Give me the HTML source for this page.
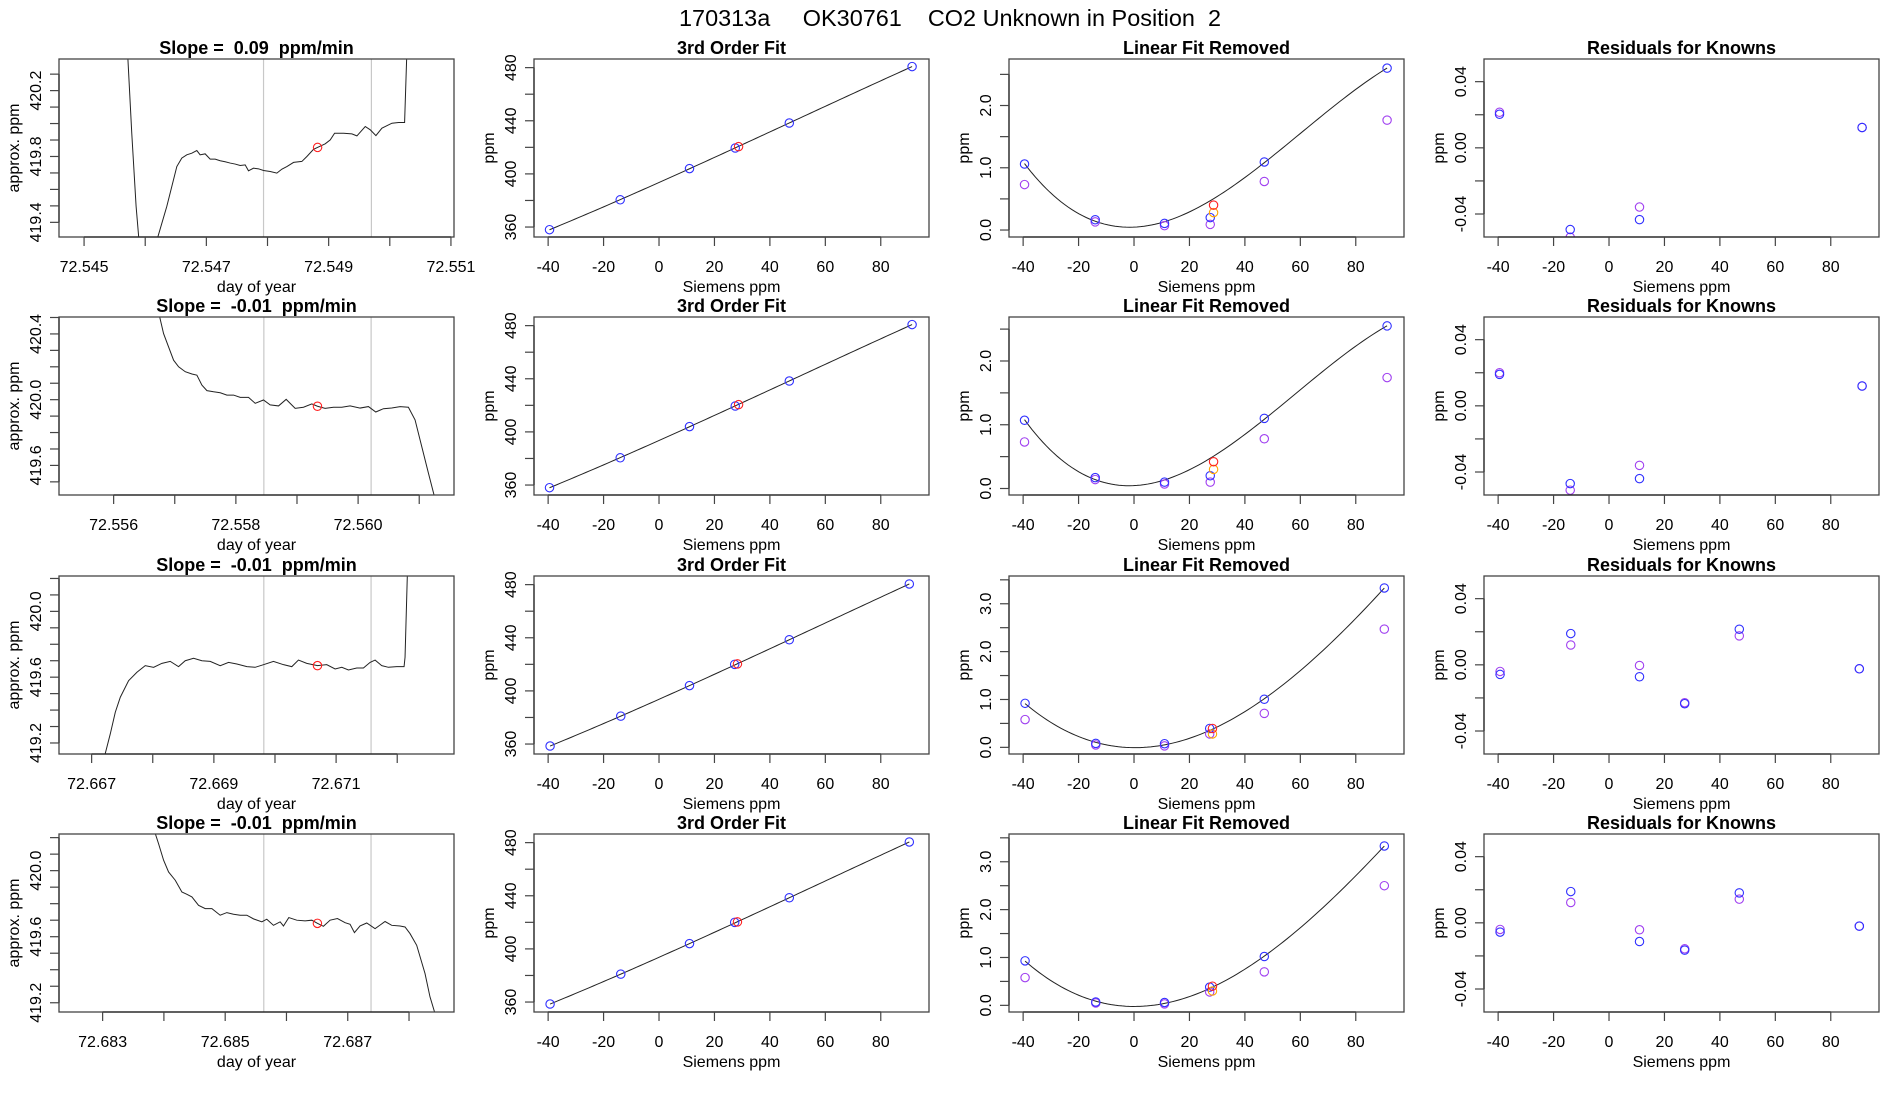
<!DOCTYPE html>
<html><head><meta charset="utf-8"><style>
html,body{margin:0;padding:0;background:#fff;}
svg{display:block;font-family:"Liberation Sans",sans-serif;}
svg text{white-space:pre;}
</style></head><body>
<svg id="fig" width="1900" height="1100" viewBox="0 0 1900 1100" xmlns="http://www.w3.org/2000/svg">
<rect width="1900" height="1100" fill="#fff"/>
<text x="679" y="26" font-size="23" textLength="542" lengthAdjust="spacingAndGlyphs">170313a     OK30761    CO2 Unknown in Position  2</text>
<g id="plots"></g>
</svg>
<script>
// ---------- time series data (column 1) ----------
const ts1_t=[72.545715,72.545780,72.545851,72.545906,72.546162,72.546353,72.546517,72.546598,72.54668,72.546762,72.546844,72.546898,72.54698,72.547062,72.547144,72.547226,72.547307,72.547389,72.547471,72.547553,72.547635,72.547689,72.547771,72.547853,72.547935,72.548044,72.548153,72.548235,72.548317,72.548426,72.548562,72.548644,72.548753,72.548818,72.548944,72.549026,72.549097,72.549244,72.54938,72.549462,72.549599,72.54968,72.549773,72.549871,72.550035,72.550144,72.550242,72.55028];
const ts1_v=[420.406,419.941,419.497,419.255,419.255,419.497,419.739,419.790,419.810,419.820,419.836,419.810,419.816,419.784,419.784,419.774,419.768,419.760,419.754,419.745,419.749,419.713,419.729,419.725,419.715,419.709,419.699,419.723,419.739,419.764,419.770,419.800,419.844,419.855,419.877,419.901,419.941,419.941,419.937,419.925,419.982,419.962,419.927,419.972,420.002,420.006,420.006,420.446];
const ts2_t=[72.556741,72.556817,72.556899,72.556981,72.557063,72.557172,72.557281,72.557362,72.557444,72.557526,72.557635,72.557744,72.557853,72.557962,72.558071,72.558207,72.558316,72.558452,72.558561,72.558698,72.558823,72.558970,72.559106,72.559243,72.559335,72.559460,72.559597,72.559733,72.559869,72.560033,72.560169,72.560289,72.560414,72.560550,72.560687,72.560823,72.560932,72.561041,72.561150,72.561248,72.561286];
const ts2_v=[420.523,420.402,420.321,420.240,420.200,420.170,420.156,420.149,420.089,420.055,420.048,420.042,420.028,420.028,420.014,420.014,419.978,419.998,419.968,419.962,420.002,419.947,419.954,419.974,419.960,419.947,419.954,419.954,419.962,419.949,419.958,419.925,419.945,419.949,419.958,419.954,419.877,419.715,419.554,419.412,419.352];
const ts3_t=[72.667207,72.667305,72.667387,72.667469,72.667605,72.667741,72.667877,72.668014,72.668150,72.668286,72.668422,72.668531,72.668668,72.668804,72.668940,72.669104,72.669240,72.669376,72.669540,72.669676,72.669812,72.669975,72.670139,72.670275,72.670384,72.670520,72.670695,72.670847,72.670984,72.671093,72.671202,72.671338,72.671447,72.671556,72.671638,72.671747,72.671856,72.671992,72.672112,72.672128,72.672166];
const ts3_v=[419.113,419.255,419.387,419.478,419.579,419.630,419.670,419.660,419.684,419.696,419.664,419.700,419.715,419.700,419.696,419.670,419.690,419.680,419.664,419.660,419.676,419.696,419.676,419.664,419.704,419.684,419.670,419.676,419.650,419.660,419.644,419.656,419.656,419.690,419.704,419.670,419.660,419.664,419.664,419.721,420.227];
const ts4_t=[72.683842,72.683913,72.683995,72.684076,72.684185,72.684293,72.684375,72.684457,72.684565,72.684674,72.684783,72.684918,72.685027,72.685136,72.685245,72.685353,72.685462,72.685598,72.685679,72.685788,72.685897,72.685951,72.686038,72.686168,72.686304,72.686413,72.686505,72.686603,72.686712,72.686832,72.686957,72.687038,72.687109,72.687201,72.687310,72.687446,72.687609,72.687717,72.687853,72.687935,72.688016,72.688125,72.688261,72.688342,72.688424];
const ts4_v=[420.244,420.163,420.063,419.992,419.942,419.871,419.857,419.841,419.790,419.770,419.770,419.730,419.746,419.736,419.730,419.730,419.708,419.690,419.706,419.669,419.690,419.665,419.716,419.700,419.696,419.700,419.681,419.663,419.700,419.710,419.685,419.675,419.625,419.665,419.683,419.649,419.692,419.669,419.665,419.659,419.619,419.548,419.377,419.236,419.135];
const tsMarkT=[72.548819,72.559335,72.670695,72.686505];
const tsMarkV=[419.855,419.960,419.670,419.681];
const tsVlineA=[72.547935,72.558458,72.669817,72.685630];
const tsVlineB=[72.549699,72.560213,72.671572,72.687380];
const tsTitles=["Slope =  0.09  ppm/min","Slope =  -0.01  ppm/min","Slope =  -0.01  ppm/min","Slope =  -0.01  ppm/min"];
const tsXTickStart=[72.545,72.556,72.667,72.683];
const tsXLabels=[["72.545","72.547","72.549","72.551"],["72.556","72.558","72.560"],["72.667","72.669","72.671"],["72.683","72.685","72.687"]];
const tsYLabels=[["419.4","419.8","420.2"],["419.6","420.0","420.4"],["419.2","419.6","420.0"],["419.2","419.6","420.0"]];

// ---------- calibration data (columns 2-4) ----------
const sieX12=[-39.5,-14.0,11.0,27.5,47.0,91.3];
const sieX34=[-39.3,-13.8,11.0,27.3,47.0,90.3];
const fitY_r1=[358,380.5,404,419.5,438.3,480.8];
const fitY_r2=[358,380.5,404,419.5,438.3,480.8];
const fitY_r3=[358.5,381,404,420,438.5,480.5];
const fitY_r4=[358.5,381,404,420,438.5,480.5];
const unkX=[28.7,28.7,28.3,28.3];
const unkY=[420.5,420.5,420.3,420.3];
const linBlue_r1=[1.06,0.165,0.107,0.2,1.093,2.6];
const linPurp_r1=[0.73,0.13,0.07,0.09,0.78,1.765];
const linBlue_r2=[1.07,0.17,0.1,0.2,1.1,2.55];
const linPurp_r2=[0.73,0.14,0.07,0.1,0.78,1.74];
const linBlue_r3=[0.92,0.083,0.076,0.395,1.005,3.33];
const linPurp_r3=[0.58,0.05,0.03,0.28,0.71,2.47];
const linBlue_r4=[0.93,0.07,0.06,0.38,1.02,3.33];
const linPurp_r4=[0.58,0.05,0.03,0.28,0.7,2.5];
const linRed=[0.40,0.42,0.395,0.40];
const linOrange=[0.28,0.30,0.28,0.30];
const resX12=[-39.5,-14.0,11.0,91.3];
const resBlue_r1=[0.0203,-0.0494,-0.0434,0.0123];
const resPurp_r1=[0.0215,-0.054,-0.0358,0.0123];
const resBlue_r2=[0.019,-0.047,-0.044,0.012];
const resPurp_r2=[0.020,-0.051,-0.036,0.012];
const resBlue_r3=[-0.0058,0.0189,-0.0072,-0.0235,0.0215,-0.0024];
const resPurp_r3=[-0.004,0.012,-0.0004,-0.0229,0.0175,-0.0024];
const resBlue_r4=[-0.0056,0.0189,-0.0113,-0.0165,0.0181,-0.002];
const resPurp_r4=[-0.004,0.0123,-0.0042,-0.0157,0.0143,-0.002];
const sieTicks=[-40,-20,0,20,40,60,80];

// ---------- layout ----------
const colL=[59,534,1009,1484], rowT=[59,317,576,834], PW=395, PH=178;
const NS="http://www.w3.org/2000/svg";
const root=document.getElementById('plots');
function mk(tag,attrs,parent){const e=document.createElementNS(NS,tag);for(const k in attrs)e.setAttribute(k,attrs[k]);(parent||root).appendChild(e);return e;}

function makePanel(ci,ri,xr,yr,name){
  const L=colL[ci],T=rowT[ri],R=L+PW,B=T+PH;
  const g=mk('g',{});
  
  
  const id='cp'+ci+'_'+ri;
  const cp=mk('clipPath',{id:id},g);mk('rect',{x:L,y:T,width:PW,height:PH},cp);
  const x=v=>L+(v-xr[0])/(xr[1]-xr[0])*PW;
  const y=v=>B-(v-yr[0])/(yr[1]-yr[0])*PH;
  const inner=mk('g',{'clip-path':'url(#'+id+')'},g);
  return {L,T,R,B,x,y,g,inner};
}
function frame(p){
  const r=mk('rect',{x:p.L,y:p.T,width:PW,height:PH,fill:'none',stroke:'#444','stroke-width':1.3},p.g);
  
  
}
function xAxis(p,ticks,labelVals,labels,title){
  const ax=mk('g',{},p.g);
  
  
  mk('line',{x1:p.x(ticks[0]),x2:p.x(ticks[ticks.length-1]),y1:p.B,y2:p.B,stroke:'#222','stroke-width':1.2},ax);
  ticks.forEach(t=>mk('line',{x1:p.x(t),x2:p.x(t),y1:p.B,y2:p.B+9,stroke:'#444','stroke-width':1.2},ax));
  labelVals.forEach((t,i)=>{const tx=mk('text',{x:p.x(t),y:p.B+35,'font-size':16,'text-anchor':'middle'},ax);tx.textContent=labels[i];
    
    });
  const tt=mk('text',{x:(p.L+p.R)/2,y:p.B+55,'font-size':16,'text-anchor':'middle'},ax);tt.textContent=title;
  
  
}
function yAxis(p,ticks,labelVals,labels,title){
  const ax=mk('g',{},p.g);
  
  
  mk('line',{y1:p.y(ticks[0]),y2:p.y(ticks[ticks.length-1]),x1:p.L,x2:p.L,stroke:'#222','stroke-width':1.2},ax);
  ticks.forEach(t=>mk('line',{y1:p.y(t),y2:p.y(t),x1:p.L,x2:p.L-9,stroke:'#444','stroke-width':1.2},ax));
  labelVals.forEach((t,i)=>{const yy=p.y(t),xx=p.L-18;const tx=mk('text',{x:xx,y:yy,'font-size':16,'text-anchor':'middle',transform:'rotate(-90 '+xx+' '+yy+')'},ax);tx.textContent=labels[i];
    
    });
  const xx=p.L-40,yy=(p.T+p.B)/2;
  const tt=mk('text',{x:xx,y:yy,'font-size':16,'text-anchor':'middle',transform:'rotate(-90 '+xx+' '+yy+')'},ax);tt.textContent=title;
  
  
}
function title(p,s){
  const t=mk('text',{x:(p.L+p.R)/2,y:p.T-5,'font-size':18,'font-weight':'bold','text-anchor':'middle'},p.g);t.textContent=s;
  
  
}
function circ(p,xv,yv,col,name){
  const c=mk('circle',{cx:p.x(xv),cy:p.y(yv),r:4.2,fill:'none',stroke:col,'stroke-width':1.1},p.inner);
  
  
}
function range(a,b,s){const r=[];for(let v=a;v<=b+1e-9;v+=s)r.push(+v.toFixed(6));return r;}
function cubicFit(xs,ys){
  const n=4,A=[],bv=[];
  for(let i=0;i<n;i++){A.push(new Array(n).fill(0));bv.push(0);}
  xs.forEach((x,k)=>{for(let i=0;i<n;i++){bv[i]+=Math.pow(x,i)*ys[k];for(let j=0;j<n;j++)A[i][j]+=Math.pow(x,i+j);}});
  for(let i=0;i<n;i++){let m=i;for(let r=i+1;r<n;r++)if(Math.abs(A[r][i])>Math.abs(A[m][i]))m=r;
    [A[i],A[m]]=[A[m],A[i]];[bv[i],bv[m]]=[bv[m],bv[i]];
    for(let r=0;r<n;r++){if(r===i)continue;const f=A[r][i]/A[i][i];for(let c=i;c<n;c++)A[r][c]-=f*A[i][c];bv[r]-=f*bv[i];}}
  const co=bv.map((v,i)=>v/A[i][i]);
  return x=>co[0]+co[1]*x+co[2]*x*x+co[3]*x*x*x;
}
function drop3(a){return a.filter((v,i)=>i!==3);}

const tsT=[ts1_t,ts2_t,ts3_t,ts4_t], tsV=[ts1_v,ts2_v,ts3_v,ts4_v];
const tsXR=[[72.54459,72.55105],[72.555106,72.561569],[72.666466,72.672929],[72.682288,72.688734]];
const tsYR=[[419.311,420.392],[419.420,420.503],[419.133,420.215],[419.144,420.222]];
const fitYs=[fitY_r1,fitY_r2,fitY_r3,fitY_r4];
const linB=[linBlue_r1,linBlue_r2,linBlue_r3,linBlue_r4], linP=[linPurp_r1,linPurp_r2,linPurp_r3,linPurp_r4];
const linYR=[[-0.112,2.747],[-0.102,2.69],[-0.139,3.58],[-0.139,3.58]];
const resB=[resBlue_r1,resBlue_r2,resBlue_r3,resBlue_r4], resP=[resPurp_r1,resPurp_r2,resPurp_r3,resPurp_r4];
const sxr=[-45.1,97.4];

for(let r=0;r<4;r++){
  let p=makePanel(0,r,tsXR[r],tsYR[r],'time-series-panel-row'+(r+1));
  [tsVlineA[r],tsVlineB[r]].forEach(v=>{const l=mk('line',{x1:p.x(v),x2:p.x(v),y1:p.T,y2:p.B,stroke:'#c8c8c8','stroke-width':1.2},p.inner);
    
    });
  const pl=mk('polyline',{points:tsT[r].map((t,i)=>p.x(t)+','+p.y(tsV[r][i])).join(' '),fill:'none',stroke:'#222','stroke-width':1},p.inner);
  
  
  circ(p,tsMarkT[r],tsMarkV[r],'#ff2020','mean-marker');
  frame(p);
  const xt=range(tsXTickStart[r],tsXR[r][1],0.001).filter(v=>v>=tsXR[r][0]);
  const xl=tsXLabels[r].map(Number);
  xAxis(p,xt,xl,tsXLabels[r],'day of year');
  const yl=tsYLabels[r].map(Number);
  const yt=range(Math.ceil(tsYR[r][0]*10)/10,tsYR[r][1],0.1);
  yAxis(p,yt,yl,tsYLabels[r],'approx. ppm');
  title(p,tsTitles[r]);

  const sx=r<2?sieX12:sieX34;
  p=makePanel(1,r,sxr,[352.5,486.5],'third-order-fit-panel-row'+(r+1));
  let f=cubicFit(drop3(sx),drop3(fitYs[r]));
  let pts=[];for(let i=0;i<=100;i++){const xv=sx[0]+(sx[5]-sx[0])*i/100;pts.push(p.x(xv)+','+p.y(f(xv)));}
  let fl=mk('polyline',{points:pts.join(' '),fill:'none',stroke:'#222','stroke-width':1},p.inner);
  
  
  sx.forEach((xv,i)=>circ(p,xv,fitYs[r][i],'#3030ff','known-standard-point'));
  circ(p,unkX[r],unkY[r],'#ff2020','unknown-point');
  frame(p);
  xAxis(p,sieTicks,sieTicks,sieTicks.map(String),'Siemens ppm');
  yAxis(p,[360,380,400,420,440,460,480],[360,400,440,480],['360','400','440','480'],'ppm');
  title(p,'3rd Order Fit');

  p=makePanel(2,r,sxr,linYR[r],'linear-fit-removed-panel-row'+(r+1));
  f=cubicFit(drop3(sx),drop3(linB[r]));
  pts=[];for(let i=0;i<=100;i++){const xv=sx[0]+(sx[5]-sx[0])*i/100;pts.push(p.x(xv)+','+p.y(f(xv)));}
  fl=mk('polyline',{points:pts.join(' '),fill:'none',stroke:'#222','stroke-width':1},p.inner);
  
  
  sx.forEach((xv,i)=>circ(p,xv,linP[r][i],'#a040f0','known-alt-point'));
  sx.forEach((xv,i)=>circ(p,xv,linB[r][i],'#3030ff','known-standard-point'));
  circ(p,unkX[r],linOrange[r],'#ffa500','unknown-alt-point');
  circ(p,unkX[r],linRed[r],'#ff2020','unknown-point');
  frame(p);
  xAxis(p,sieTicks,sieTicks,sieTicks.map(String),'Siemens ppm');
  const lt=range(0,linYR[r][1],0.5);
  const lv=r<2?[0,1,2]:[0,1,2,3];
  yAxis(p,lt,lv,lv.map(v=>v.toFixed(1)),'ppm');
  title(p,'Linear Fit Removed');

  p=makePanel(3,r,sxr,[-0.0539,0.0537],'residuals-panel-row'+(r+1));
  const rx=r<2?resX12:sieX34;
  rx.forEach((xv,i)=>circ(p,xv,resP[r][i],'#a040f0','residual-alt-point'));
  rx.forEach((xv,i)=>circ(p,xv,resB[r][i],'#3030ff','residual-point'));
  frame(p);
  xAxis(p,sieTicks,sieTicks,sieTicks.map(String),'Siemens ppm');
  yAxis(p,[-0.04,-0.02,0,0.02,0.04],[-0.04,0,0.04],['-0.04','0.00','0.04'],'ppm');
  title(p,'Residuals for Knowns');
}
</script>
</body></html>
